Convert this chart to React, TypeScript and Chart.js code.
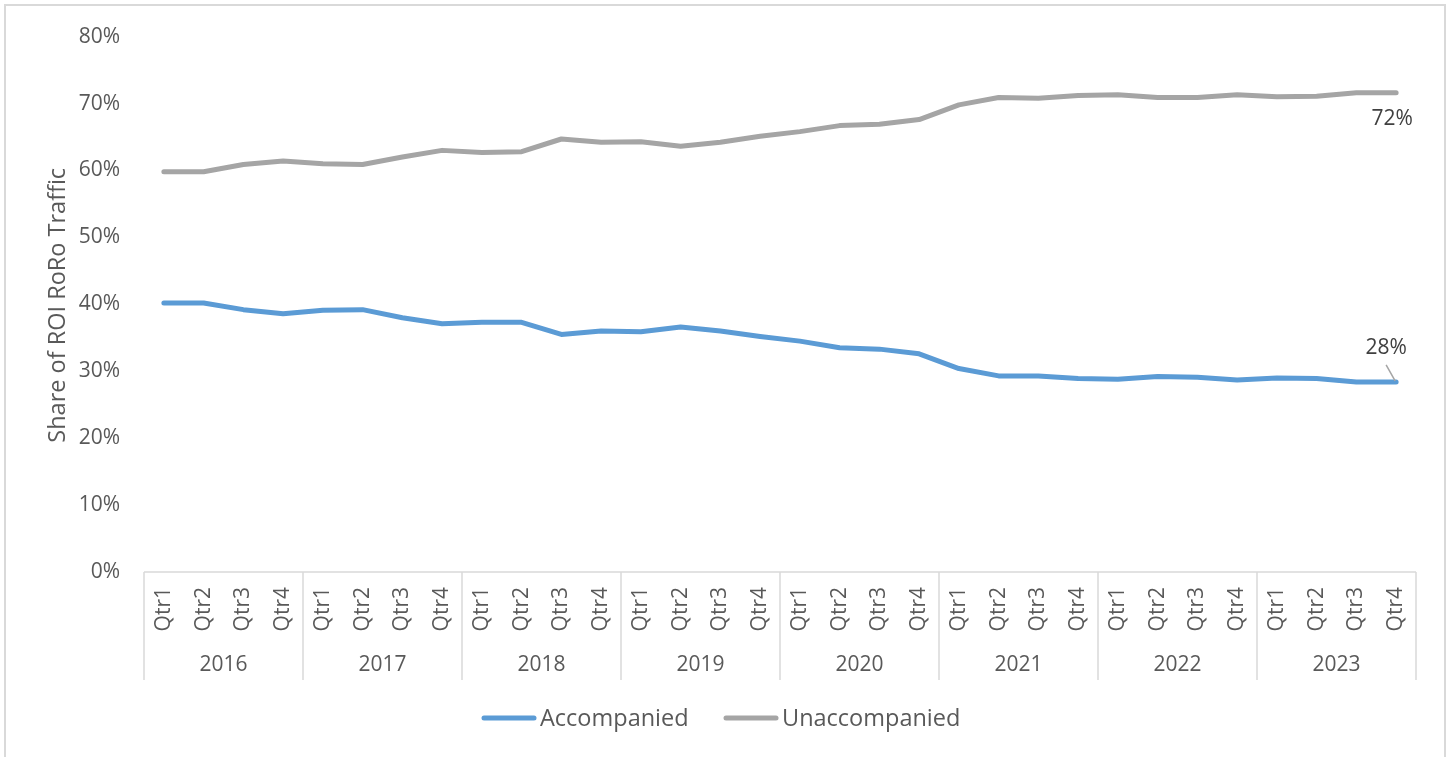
import React, { useEffect, useRef } from "react";
import { Chart, registerables } from "chart.js";

Chart.register(...registerables);

// Years and quarters of the two-level category axis
const years = ["2016", "2017", "2018", "2019", "2020", "2021", "2022", "2023"];
const quarters = ["Qtr1", "Qtr2", "Qtr3", "Qtr4"];
const categories: string[] = years.flatMap((y) => quarters.map((q) => `${q} ${y}`));

// Share of ROI RoRo traffic (%)
const accompanied = [
  40.2, 40.2, 39.2, 38.6, 39.1, 39.2, 38.0, 37.1,
  37.3, 37.3, 35.5, 36.0, 35.9, 36.6, 36.0, 35.2,
  34.5, 33.5, 33.3, 32.6, 30.4, 29.3, 29.3, 28.9,
  28.8, 29.2, 29.1, 28.7, 29.0, 28.9, 28.4, 28.4,
];
const unaccompanied = [
  59.8, 59.8, 60.9, 61.4, 61.0, 60.9, 62.0, 63.0,
  62.7, 62.8, 64.7, 64.2, 64.3, 63.6, 64.2, 65.1,
  65.8, 66.7, 66.9, 67.6, 69.8, 70.9, 70.8, 71.2,
  71.3, 70.9, 70.9, 71.3, 71.0, 71.1, 71.6, 71.6,
];

const FONT = "'Open Sans', 'Noto Sans', sans-serif";
const TEXT = "#595959";
const LINE_GRAY = "#d9d9d9";
const BLUE = "#5B9BD5";
const GRAY = "#A5A5A5";

// Frame, two-level x axis, y title, end labels and legend
const decorations = {
  id: "decorations",
  beforeDraw(chart: any) {
    const ctx = chart.ctx;
    ctx.save();
    ctx.fillStyle = "#ffffff";
    ctx.fillRect(0, 0, chart.width, chart.height);
    ctx.strokeStyle = LINE_GRAY;
    ctx.lineWidth = 2;
    ctx.strokeRect(5, 5, 1440, 780);
    ctx.restore();
  },
  afterDraw(chart: any) {
    const ctx = chart.ctx;
    const xs = chart.scales.x;
    const area = chart.chartArea;
    const n = categories.length;
    const step = (area.right - area.left) / n;
    ctx.save();

    // axis line and year separators
    ctx.strokeStyle = LINE_GRAY;
    ctx.lineWidth = 1.5;
    ctx.beginPath();
    ctx.moveTo(area.left, area.bottom);
    ctx.lineTo(area.right, area.bottom);
    for (let i = 0; i <= years.length; i++) {
      const x = area.left + i * quarters.length * step;
      ctx.moveTo(x, area.bottom);
      ctx.lineTo(x, area.bottom + 108);
    }
    ctx.stroke();

    // quarter labels (rotated)
    ctx.fillStyle = TEXT;
    ctx.font = `21px ${FONT}`;
    ctx.textAlign = "right";
    ctx.textBaseline = "middle";
    categories.forEach((c, i) => {
      const x = xs.getPixelForValue(i);
      ctx.save();
      ctx.translate(x, area.bottom + 15);
      ctx.rotate(-Math.PI / 2);
      ctx.fillText(c.split(" ")[0], 0, 0);
      ctx.restore();
    });

    // year labels
    ctx.textAlign = "center";
    years.forEach((y, i) => {
      const x = area.left + (i + 0.5) * quarters.length * step;
      ctx.fillText(y, x, area.bottom + 93);
    });

    // y axis title
    ctx.save();
    ctx.font = `23.5px ${FONT}`;
    ctx.translate(58, (area.top + area.bottom) / 2 + 1);
    ctx.rotate(-Math.PI / 2);
    ctx.fillText("Share of ROI RoRo Traffic", 0, 0);
    ctx.restore();

    // end-point value labels
    const last = n - 1;
    const ys = chart.scales.y;
    const px = xs.getPixelForValue(last);
    const pyU = ys.getPixelForValue(unaccompanied[last]);
    const pyA = ys.getPixelForValue(accompanied[last]);
    ctx.fillStyle = "#404040";
    ctx.font = `21px ${FONT}`;
    ctx.fillText(`${Math.round(unaccompanied[last])}%`, px - 4, pyU + 26);
    ctx.fillText(`${Math.round(accompanied[last])}%`, px - 10, pyA - 34);
    ctx.strokeStyle = GRAY;
    ctx.lineWidth = 1.5;
    ctx.beginPath();
    ctx.moveTo(px - 10, pyA - 17);
    ctx.lineTo(px - 1, pyA - 1);
    ctx.stroke();

    // legend
    const legend = [
      { label: "Accompanied", color: BLUE, x: 482 },
      { label: "Unaccompanied", color: GRAY, x: 724 },
    ];
    ctx.font = `23.5px ${FONT}`;
    ctx.textAlign = "left";
    ctx.fillStyle = TEXT;
    ctx.lineCap = "round";
    legend.forEach((l) => {
      ctx.strokeStyle = l.color;
      ctx.lineWidth = 5;
      ctx.beginPath();
      ctx.moveTo(l.x + 2, 718);
      ctx.lineTo(l.x + 52, 718);
      ctx.stroke();
      ctx.fillText(l.label, l.x + 58, 719);
    });

    ctx.restore();
  },
};

export default function App() {
  const ref = useRef<HTMLCanvasElement | null>(null);

  useEffect(() => {
    if (!ref.current) return;
    const chart = new Chart(ref.current, {
      type: "line",
      data: {
        labels: categories,
        datasets: [
          {
            label: "Accompanied",
            data: accompanied,
            borderColor: BLUE,
            backgroundColor: BLUE,
            borderWidth: 5,
            pointRadius: 0,
            borderCapStyle: "round",
            borderJoinStyle: "round",
            tension: 0,
          },
          {
            label: "Unaccompanied",
            data: unaccompanied,
            borderColor: GRAY,
            backgroundColor: GRAY,
            borderWidth: 5,
            pointRadius: 0,
            borderCapStyle: "round",
            borderJoinStyle: "round",
            tension: 0,
          },
        ],
      },
      options: {
        responsive: false,
        animation: false,
        devicePixelRatio: 1,
        layout: { padding: { left: 0, top: 34, right: 33, bottom: 185 } },
        plugins: {
          legend: { display: false },
          tooltip: { enabled: false },
        },
        scales: {
          x: {
            type: "category",
            offset: true,
            display: false,
          },
          y: {
            min: 0,
            max: 80,
            afterFit: (scale: any) => {
              scale.width = 144;
            },
            grid: { display: false, drawTicks: false },
            border: { display: false },
            ticks: {
              stepSize: 10,
              padding: 24,
              color: TEXT,
              font: { family: FONT, size: 21 },
              callback: (v: any) => `${v}%`,
            },
          },
        },
      },
      plugins: [decorations],
    });
    return () => chart.destroy();
  }, []);

  return (
    <div style={{ position: "absolute", left: 0, top: 0, width: 1449, height: 757 }}>
      <canvas ref={ref} width={1449} height={757} />
    </div>
  );
}
